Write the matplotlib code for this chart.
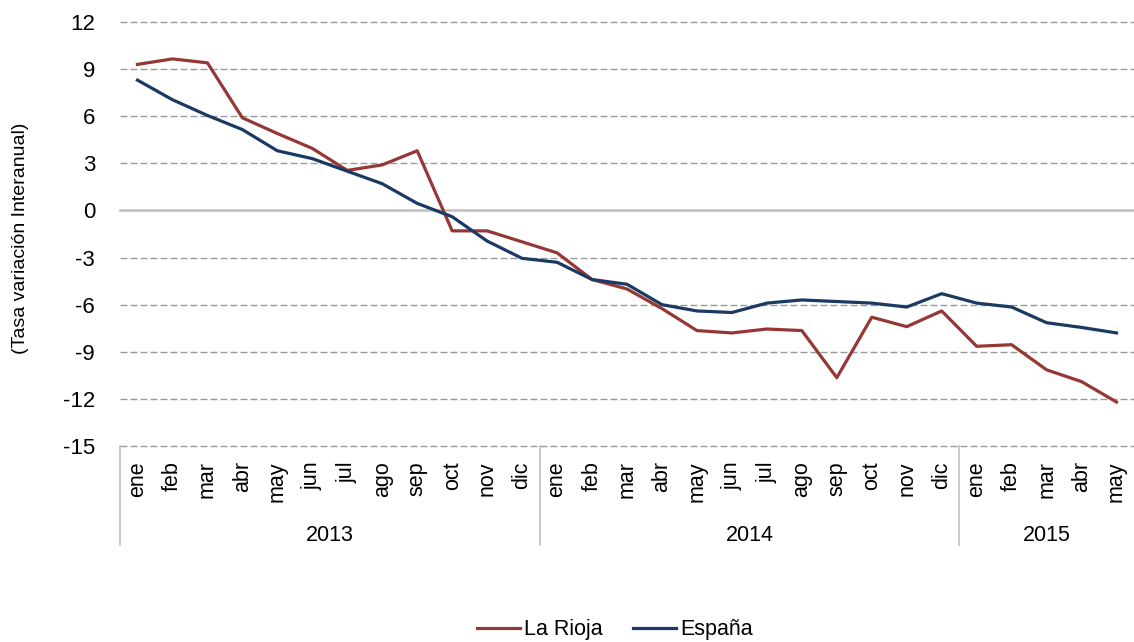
import matplotlib.pyplot as plt
import matplotlib.transforms as mtransforms

plt.rcParams['font.family'] = ['Liberation Sans', 'DejaVu Sans']

months = ['ene', 'feb', 'mar', 'abr', 'may', 'jun', 'jul', 'ago', 'sep', 'oct', 'nov', 'dic',
          'ene', 'feb', 'mar', 'abr', 'may', 'jun', 'jul', 'ago', 'sep', 'oct', 'nov', 'dic',
          'ene', 'feb', 'mar', 'abr', 'may']
years = ['2013', '2014', '2015']
year_counts = [12, 12, 5]

la_rioja = [9.3, 9.65, 9.4, 5.9, 4.9, 3.95, 2.55, 2.9, 3.8, -1.3, -1.3, -2.0,
            -2.7, -4.4, -5.0, -6.25, -7.65, -7.8, -7.55, -7.65, -10.65, -6.8, -7.4, -6.4,
            -8.65, -8.55, -10.15, -10.9, -12.2]
espana = [8.3, 7.05, 6.05, 5.15, 3.8, 3.3, 2.5, 1.7, 0.45, -0.4, -1.95, -3.05,
          -3.3, -4.4, -4.7, -6.0, -6.4, -6.5, -5.9, -5.7, -5.8, -5.9, -6.15, -5.3,
          -5.9, -6.15, -7.15, -7.45, -7.8]

yticks = list(range(-15, 13, 3))

fig = plt.figure(figsize=(11.34, 6.42), dpi=100)
ax = fig.add_axes([120 / 1134, 1 - 446 / 642, 1 - 120 / 1134, 424 / 642])

x = list(range(len(months)))

# grid lines
for v in yticks:
    if v == 0:
        ax.axhline(v, color='#bfbfbf', lw=1.8, zorder=1, clip_on=False)
    else:
        ax.axhline(v, color='#9a9a9a', lw=1.0, ls=(0, (5, 2.2)), zorder=1, clip_on=False)

ax.plot(x, la_rioja, color='#953735', lw=2.3, label='La Rioja', zorder=3)
ax.plot(x, espana, color='#1a3a63', lw=2.3, label='España', zorder=3)

ax.set_xlim(-0.5, len(months) - 0.5)
ax.set_ylim(-15, 12)
ax.set_yticks(yticks)
ax.set_yticklabels([str(v) for v in yticks])
ax.tick_params(axis='y', length=0, pad=18, labelsize=16)

ax.set_xticks(x)
ax.set_xticklabels(months, rotation=90)
ax.tick_params(axis='x', length=0, pad=11, labelsize=15.5)

for s in ax.spines.values():
    s.set_visible(False)

ax.set_ylabel('(Tasa variación Interanual)', fontsize=14)
ax.yaxis.set_label_coords(-0.09, 0.49)

# year group labels and separators
trans = mtransforms.blended_transform_factory(ax.transData, ax.transAxes)
start = -0.5
ax.plot([start, start], [0, -0.234], color='#c0c0c0', lw=1.2, transform=trans, clip_on=False)
for yr, n in zip(years, year_counts):
    end = start + n
    ax.text((start + end) / 2, -0.21, yr, transform=trans, ha='center', va='center', fontsize=15.5)
    if end < len(months) - 0.5:
        ax.plot([end, end], [0, -0.234], color='#c0c0c0', lw=1.2, transform=trans, clip_on=False)
    start = end

fig.legend(loc='center', bbox_to_anchor=(615 / 1134, 1 - 630 / 642), ncol=2, frameon=False,
           fontsize=15.5, handlelength=2.0, handletextpad=0.2, columnspacing=1.4)

fig.savefig('out.png', dpi=100)
